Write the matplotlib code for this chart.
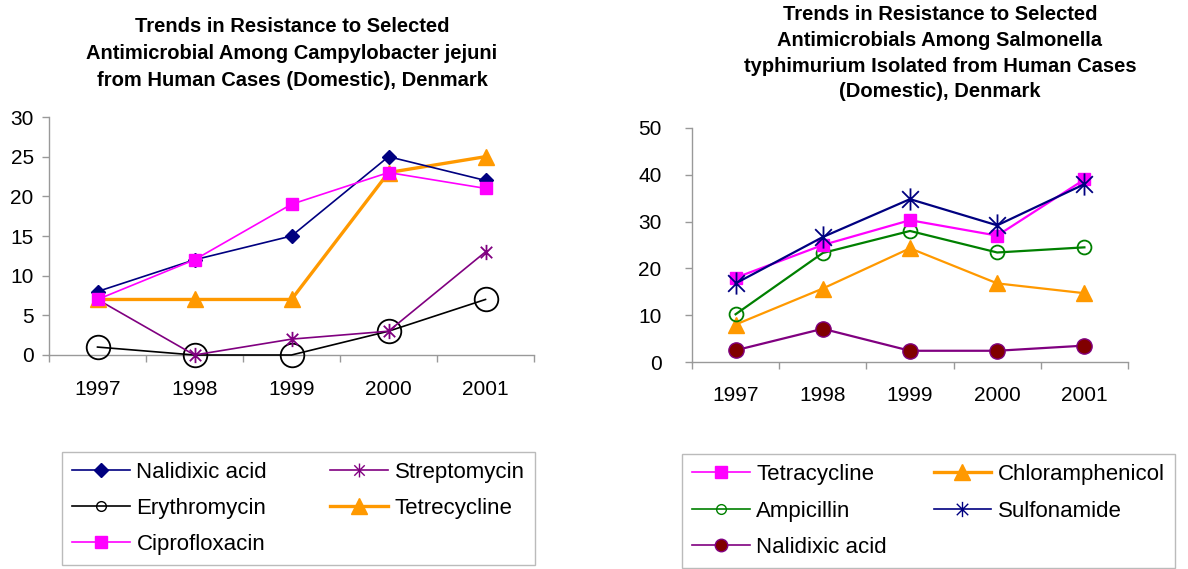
import matplotlib
matplotlib.use("Agg")
import matplotlib.pyplot as plt
from matplotlib.lines import Line2D
from matplotlib.path import Path

plt.rcParams['font.family'] = ['Liberation Sans', 'DejaVu Sans']

years = ["1997", "1998", "1999", "2000", "2001"]

## left chart: Campylobacter jejuni
camp_nalidixic = [8, 12, 15, 25, 22]
camp_strepto = [7, 0, 2, 3, 13]
camp_erythro = [1, 0, 0, 3, 7]
camp_tetre = [7, 7, 7, 23, 25]
camp_cipro = [7, 12, 19, 23, 21]

## right chart: Salmonella typhimurium
salm_tetra = [18, 25, 30.3, 27, 39]
salm_chloram = [8, 15.7, 24.3, 16.8, 14.7]
salm_ampi = [10.2, 23.3, 28, 23.4, 24.5]
salm_sulfa = [16.8, 26.7, 34.8, 29.2, 38]
salm_nalidixic = [2.5, 7.1, 2.4, 2.4, 3.5]

title_left = ["Trends in Resistance to Selected",
              "Antimicrobial Among Campylobacter jejuni",
              "from Human Cases (Domestic), Denmark"]
title_right = ["Trends in Resistance to Selected",
               "Antimicrobials Among Salmonella",
               "typhimurium Isolated from Human Cases",
               "(Domestic), Denmark"]

W, H = 1188, 569
fig = plt.figure(figsize=(W / 100, H / 100), dpi=100)

NAVY = "#000080"
MAG = "#FF00FF"
ORANGE = "#FF9900"
PURPLE = "#800080"
GREEN = "#008000"
DKRED = "#800000"

## excel style star: an X with a vertical bar through it
ASTER = Path([(0, -1), (0, 1), (-0.75, -0.75), (0.75, 0.75), (-0.75, 0.75), (0.75, -0.75)],
             [Path.MOVETO, Path.LINETO, Path.MOVETO, Path.LINETO, Path.MOVETO, Path.LINETO])


def px_axes(x0, x1, ytop, ybot):
    return fig.add_axes([x0 / W, 1 - ybot / H, (x1 - x0) / W, (ybot - ytop) / H])


def style_axes(ax, ymax, ystep, ypad, xpad):
    x = range(len(years))
    ax.set_xlim(-0.5, len(years) - 0.5)
    ax.set_ylim(0, ymax)
    ax.set_yticks(range(0, ymax + 1, ystep))
    ax.set_xticks([i - 0.5 for i in range(len(years) + 1)])
    ax.set_xticklabels([])
    ax.set_xticks(list(x), minor=True)
    ax.set_xticklabels(years, minor=True)
    ax.tick_params(axis='x', which='major', length=5, width=1, color="#999999", direction='out')
    ax.tick_params(axis='x', which='minor', length=0, pad=xpad, labelsize=15)
    ax.tick_params(axis='y', length=5, width=1, color="#999999", pad=ypad, labelsize=15)
    for s in ['top', 'right']:
        ax.spines[s].set_visible(False)
    for s in ['left', 'bottom']:
        ax.spines[s].set_color("#999999")
        ax.spines[s].set_linewidth(1)
    ax.patch.set_alpha(0)


x = range(len(years))

## ---------- left ----------
ax1 = px_axes(49, 534, 117, 355)
ax1.plot(x, camp_erythro, color="black", lw=1.2, marker='o', ms=17, mfc='none', mec='black', mew=1.3, clip_on=False, zorder=3)
ax1.plot(x, camp_strepto, color=PURPLE, lw=1.2, marker=ASTER, ms=11, mec=PURPLE, mew=1.3, clip_on=False, zorder=4)
ax1.plot(x, camp_tetre, color=ORANGE, lw=2.4, marker='^', ms=11, mec=ORANGE, clip_on=False, zorder=4)
ax1.plot(x, camp_nalidixic, color=NAVY, lw=1.2, marker='D', ms=7, mec=NAVY, clip_on=False, zorder=5)
ax1.plot(x, camp_cipro, color=MAG, lw=1.2, marker='s', ms=9, mec=MAG, clip_on=False, zorder=5)
style_axes(ax1, 30, 5, 6, 18)

left_handles = [
    Line2D([], [], color=NAVY, lw=1.2, marker='D', ms=7, mec=NAVY),
    Line2D([], [], color="black", lw=1.2, marker='o', ms=7, mfc='none', mec='black'),
    Line2D([], [], color=MAG, lw=1.2, marker='s', ms=9, mec=MAG),
    Line2D([], [], color=PURPLE, lw=1.2, marker=ASTER, ms=10, mec=PURPLE),
    Line2D([], [], color=ORANGE, lw=2.4, marker='^', ms=11, mec=ORANGE),
]
left_labels = ["Nalidixic acid", "Erythromycin", "Ciprofloxacin", "Streptomycin", "Tetrecycline"]
leg1 = fig.legend(left_handles, left_labels, loc='upper left', ncol=2,
                  bbox_to_anchor=(62 / W, 1 - 452 / H),
                  fontsize=16, frameon=True, fancybox=False, edgecolor="#AAAAAA",
                  handlelength=2.6, handletextpad=0.3, labelspacing=0.68, borderpad=0.45,
                  columnspacing=2.85, borderaxespad=0)
leg1.get_frame().set_linewidth(1)

for i, line in enumerate(title_left):
    fig.text(292 / W, 1 - (26 + 27.5 * i) / H, line, ha='center', va='center', fontsize=14.5, fontweight='bold')

## ---------- right ----------
ax2 = px_axes(692, 1128, 128, 362)
ax2.plot(x, salm_nalidixic, color=PURPLE, lw=1.6, marker='o', ms=11, mfc=DKRED, mec=PURPLE, mew=1, clip_on=False, zorder=3)
ax2.plot(x, salm_chloram, color=ORANGE, lw=1.6, marker='^', ms=11, mec=ORANGE, clip_on=False, zorder=3)
ax2.plot(x, salm_ampi, color=GREEN, lw=1.6, marker='o', ms=10, mfc='none', mec=GREEN, mew=1.3, clip_on=False, zorder=4)
ax2.plot(x, salm_tetra, color=MAG, lw=1.6, marker='s', ms=9, mec=MAG, clip_on=False, zorder=4)
ax2.plot(x, salm_sulfa, color=NAVY, lw=1.6, marker=ASTER, ms=16, mec=NAVY, mew=1.3, clip_on=False, zorder=5)
style_axes(ax2, 50, 10, 17, 17)

right_handles = [
    Line2D([], [], color=MAG, lw=1.2, marker='s', ms=9, mec=MAG),
    Line2D([], [], color=GREEN, lw=1.2, marker='o', ms=7, mfc='none', mec=GREEN),
    Line2D([], [], color=PURPLE, lw=1.2, marker='o', ms=9, mfc=DKRED, mec=PURPLE),
    Line2D([], [], color=ORANGE, lw=2.4, marker='^', ms=11, mec=ORANGE),
    Line2D([], [], color=NAVY, lw=1.2, marker=ASTER, ms=11, mec=NAVY),
]
right_labels = ["Tetracycline", "Ampicillin", "Nalidixic acid", "Chloramphenicol", "Sulfonamide"]
leg2 = fig.legend(right_handles, right_labels, loc='upper left', ncol=2, mode='expand',
                  bbox_to_anchor=(682 / W, 1 - 568 / H, 493 / W, (568 - 454) / H),
                  fontsize=16, frameon=True, fancybox=False, edgecolor="#AAAAAA",
                  handlelength=2.6, handletextpad=0.3, labelspacing=0.7, borderpad=0.45,
                  borderaxespad=0)
leg2.get_frame().set_linewidth(1)

for i, line in enumerate(title_right):
    fig.text(940 / W, 1 - (14 + 26 * i) / H, line, ha='center', va='center', fontsize=14.5, fontweight='bold')

fig.savefig("out.png", dpi=100)
